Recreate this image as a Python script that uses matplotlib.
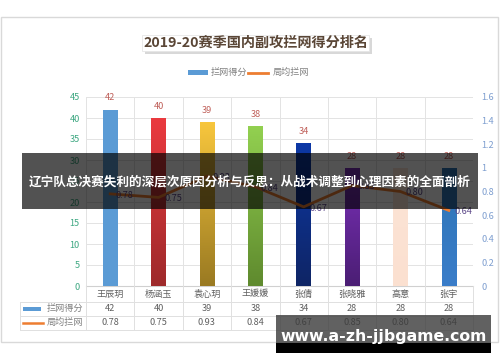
import matplotlib
matplotlib.use('Agg')
import matplotlib.pyplot as plt
import matplotlib.transforms as mtransforms
from matplotlib.patches import Rectangle
from matplotlib.lines import Line2D
from matplotlib.colors import LinearSegmentedColormap
import numpy as np

plt.rcParams['font.family'] = ['Noto Sans CJK SC', 'DejaVu Sans']

# data
players = ['王辰玥', '杨涵玉', '袁心玥', '王媛媛', '张倩', '张晓雅', '高意', '张宇']
block_pts = [42, 40, 39, 38, 34, 28, 28, 28]
block_avg = [0.78, 0.75, 0.93, 0.84, 0.67, 0.85, 0.80, 0.64]
left_ticks = [0, 5, 10, 15, 20, 25, 30, 35, 40, 45]
right_ticks = [0, 0.2, 0.4, 0.6, 0.8, 1.0, 1.2, 1.4, 1.6]
right_labels = ['0', '0.2', '0.4', '0.6', '0.8', '1', '1.2', '1.4', '1.6']
bar_top = ['#5B9BD5', '#EA3A3F', '#F7C63D', '#92D050', '#0C38A6', '#7A30B8', '#FCE4D6', '#2E75B6']
bar_bottom = ['#5B9BD5', '#9E2A2B', '#9A7A22', '#5F8A2E', '#0F2565', '#4B1E74', '#FBE0D0', '#3A7DC9']

title = '2019-20赛季国内副攻拦网得分排名'
s1_name = '拦网得分'
s2_name = '局均拦网'
banner = '辽宁队总决赛失利的深层次原因分析与反思：从战术调整到心理因素的全面剖析'
site = 'www.a-zh-jjbgame.com'

W, H = 500, 362
fig = plt.figure(figsize=(W / 100, H / 100), dpi=100)


def fx(px):
    return px / W


def fy(py):
    return 1 - py / H


def frect(x0, y0, x1, y1, **kw):
    r = Rectangle((fx(x0), fy(y1)), fx(x1) - fx(x0), fy(y0) - fy(y1),
                  transform=fig.transFigure, **kw)
    fig.patches.append(r)
    return r


def fline(x0, y0, x1, y1, **kw):
    fig.lines.append(Line2D([fx(x0), fx(x1)], [fy(y0), fy(y1)], transform=fig.transFigure, **kw))


# outer chart frame
frect(1, 17, 498, 342, fill=False, ec='#D9D9D9', lw=1)

# title box with shadow
frect(145, 38, 372, 54, fc='#C8C8C8', ec='none', alpha=0.7)
frect(142, 35, 369, 51, fc='white', ec='#E6E6E6', lw=0.6)
fig.text(fx(255.5), fy(43), title, ha='center', va='center', fontsize=10.2,
         fontweight='bold', color='#5A4636')

# legend
frect(188, 70, 208, 75, fc='#5B9BD5', ec='none')
fig.text(fx(211), fy(72.5), s1_name, ha='left', va='center', fontsize=6.6, color='#808080')
fline(248, 72.5, 268, 72.5, color='#ED7D31', lw=2)
fig.text(fx(273), fy(72.5), s2_name, ha='left', va='center', fontsize=6.6, color='#808080')

# main axes
ax = fig.add_axes([fx(86), fy(286), fx(473) - fx(86), (286 - 97) / H])
x = np.arange(len(players))
bars = ax.bar(x, block_pts, width=0.3, color=bar_top, zorder=2)
grad = np.linspace(0, 1, 64).reshape(-1, 1)
for b, ct, cb in zip(bars, bar_top, bar_bottom):
    cmap = LinearSegmentedColormap.from_list('g', [cb, ct])
    im = ax.imshow(grad, extent=[b.get_x(), b.get_x() + b.get_width(), 0, b.get_height()],
                   origin='lower', aspect='auto', cmap=cmap, zorder=2.1)
    im.set_clip_path(b)
for xi, v in zip(x, block_pts):
    ax.annotate(str(v), (xi, v), xytext=(0, 8.5), textcoords='offset points',
                ha='center', va='center', fontsize=6.6, color='#C0605A')

ax.set_xlim(-0.5, len(players) - 0.5)
ax.set_ylim(0, 45)
ax.set_yticks(left_ticks)
ax.set_xticks([])
ax.tick_params(axis='y', length=0, pad=4.5, labelsize=6.6, labelcolor='#3FA882')
ax.grid(axis='y', color='#E3E3E3', lw=0.7, zorder=0)
for i in range(len(players) + 1):
    ax.axvline(i - 0.5, color='#E3E3E3', lw=0.7, zorder=0)
for s in ax.spines.values():
    s.set_visible(False)

ax2 = ax.twinx()
ax2.plot(x, block_avg, color='#ED7D31', lw=2, zorder=3)
for xi, v in zip(x, block_avg):
    ax2.annotate(f'{v:.2f}', (xi, v), xytext=(4, -1), textcoords='offset points',
                 ha='left', va='center', fontsize=6.6, color='#5F4B8B')
ax2.set_ylim(0, 1.6)
ax2.set_yticks(right_ticks)
ax2.set_yticklabels(right_labels)
ax2.tick_params(axis='y', length=0, pad=6, labelsize=6.6, labelcolor='#7F9FD0')
for s in ax2.spines.values():
    s.set_visible(False)

# data table under the plot
trans = mtransforms.blended_transform_factory(ax.transData, ax.transAxes)
ah = 286 - 97
row_lines = [-(301.5 - 286) / ah, -(315.5 - 286) / ah, -(329.5 - 286) / ah]
ax.plot([-0.5, len(players) - 0.5], [0, 0], color='#D0D0D0', lw=0.8, transform=trans, clip_on=False)
for yl in row_lines:
    ax.plot([-0.5, len(players) - 0.5], [yl, yl], color='#E0E0E0', lw=0.7, transform=trans, clip_on=False)
for i in range(len(players) + 1):
    ax.plot([i - 0.5, i - 0.5], [0, row_lines[-1]], color='#E0E0E0', lw=0.7,
            transform=trans, clip_on=False)
row_y = [-(294 - 286) / ah, -(308.5 - 286) / ah, -(322.5 - 286) / ah]
for xi, name, v1, v2 in zip(x, players, block_pts, block_avg):
    ax.text(xi, row_y[0], name, transform=trans, ha='center', va='center', fontsize=6.6, color='#606060')
    ax.text(xi, row_y[1], str(v1), transform=trans, ha='center', va='center', fontsize=6.6, color='#606060')
    ax.text(xi, row_y[2], f'{v2:.2f}', transform=trans, ha='center', va='center', fontsize=6.6, color='#606060')

# table row headers
for yy in (301.5, 315.5, 329.5):
    fline(20, yy, 86, yy, color='#E0E0E0', lw=0.7)
fline(20, 301.5, 20, 329.5, color='#E0E0E0', lw=0.7)
frect(23, 306.5, 41, 310.5, fc='#5B9BD5', ec='none')
fig.text(fx(47), fy(308.5), s1_name, ha='left', va='center', fontsize=6.6, color='#808080')
fline(23, 322.5, 43, 322.5, color='#ED7D31', lw=1.8)
fig.text(fx(47), fy(322.5), s2_name, ha='left', va='center', fontsize=6.6, color='#808080')

# banner overlay
frect(22, 153, 478, 209, fc='black', ec='none', alpha=0.68, zorder=10)
fig.text(fx(250), fy(182), banner, ha='center', va='center', fontsize=9.1,
         fontweight='bold', color='white', zorder=11)

# site watermark
frect(276, 315, 491, 343, fc='#3A3A3A', ec='none', alpha=0.8, zorder=10)
frect(276, 343, 491, 353, fc='black', ec='none', zorder=10)
fig.text(fx(383.5), fy(336), site, ha='center', va='center', fontsize=11.3,
         fontweight='bold', color='white', family='DejaVu Sans', zorder=11)

fig.savefig('out.png', dpi=100)
